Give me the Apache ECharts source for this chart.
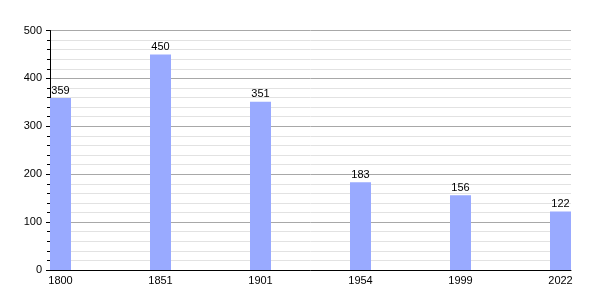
<!DOCTYPE html>
<html><head><meta charset="utf-8">
<script src="https://cdn.jsdelivr.net/npm/echarts@6/dist/echarts.min.js"></script>
<style>html,body{margin:0;padding:0;background:#fff}#c{width:600px;height:300px}</style>
</head><body><div id="c"></div>
<script>
const years = ['1800', '1851', '1901', '1954', '1999', '2022'];
const population = [359, 450, 351, 183, 156, 122];
const yTicks = [0, 100, 200, 300, 400, 500];

const chart = echarts.init(document.getElementById('c'), null, {renderer: 'canvas'});
chart.setOption({
  animation: false,
  backgroundColor: '#fff',
  textStyle: {fontFamily: 'Liberation Sans, Arial, sans-serif'},
  grid: {left: 50, right: 29, top: 30.5, bottom: 30, containLabel: false},
  xAxis: {
    type: 'value',
    min: -0.105, max: 5.105,
    splitLine: {show: false},
    axisLine: {show: true, onZero: false, lineStyle: {color: '#000', width: 1}},
    axisTick: {show: false},
    axisLabel: {
      customValues: years.map((y, i) => i),
      formatter: v => years[Math.round(v)],
      color: '#000', fontSize: 11, margin: 5
    }
  },
  yAxis: {
    type: 'value', min: 0, max: 500, interval: 100,
    axisLine: {show: true, onZero: false, lineStyle: {color: '#000'}},
    axisTick: {show: true, inside: false, length: 4, lineStyle: {color: '#000'}},
    minorTick: {show: true, splitNumber: 5, length: 3, lineStyle: {color: '#000'}},
    axisLabel: {color: '#000', fontSize: 11, margin: 8,
      formatter: v => yTicks.includes(v) ? String(v) : ''},
    splitLine: {show: true, lineStyle: {color: '#a8a8a8', width: 1}},
    minorSplitLine: {show: true, lineStyle: {color: '#e2e2e2', width: 1}}
  },
  series: [{
    type: 'bar',
    data: population.map((v, i) => [i, v]),
    barWidth: 21,
    itemStyle: {color: '#99aaff'},
    label: {show: true, position: 'top', color: '#000', fontSize: 11, distance: 2,
      formatter: p => String(p.value[1])}
  }]
});
</script></body></html>
